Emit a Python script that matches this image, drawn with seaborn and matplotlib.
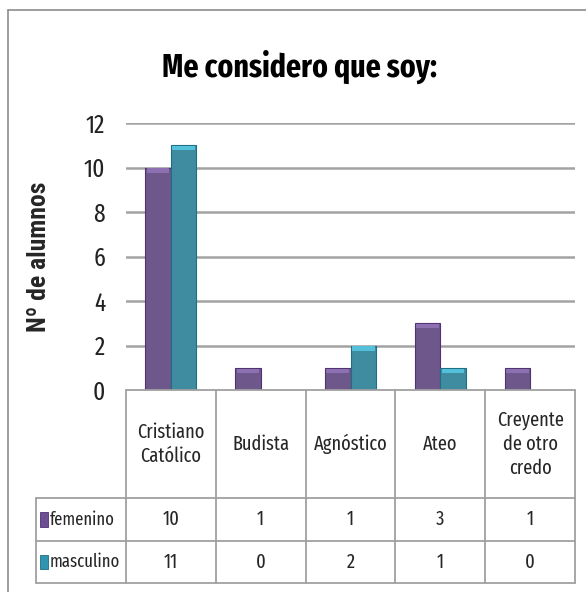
import matplotlib
matplotlib.use("Agg")
import matplotlib.pyplot as plt
import matplotlib.transforms as mtransforms
from matplotlib import font_manager
from matplotlib.lines import Line2D
from matplotlib.patches import Rectangle
import seaborn as sns
import pandas as pd

# ---------------- data ----------------
categories = ["Cristiano\nCatólico", "Budista", "Agnóstico", "Ateo", "Creyente\nde otro\ncredo"]
series_names = ["femenino", "masculino"]
femenino = [10, 1, 1, 3, 1]
masculino = [11, 0, 2, 1, 0]
y_ticks = [0, 2, 4, 6, 8, 10, 12]
title = "Me considero que soy:"
ylabel = "Nº de alumnos"
colors = ["#6E4E92", "#2F95B0"]
top_colors = ["#8C70B2", "#55C0DA"]
edge_colors = ["#4E3370", "#1F6E85"]

# ---------------- fonts ----------------
def faces(name):
    return [f for f in font_manager.fontManager.ttflist if f.name == name]

prefs = ["Fira Sans Extra Condensed", "Open Sans Condensed", "Fira Sans Condensed",
         "Roboto Condensed", "Carlito", "Liberation Sans"]
body = next(p for p in prefs if faces(p))
body_stretch = faces(body)[0].stretch
label_prefs = ["Roboto Condensed", "Liberation Sans"]
lab = next(p for p in label_prefs if faces(p))
lab_stretch = faces(lab)[0].stretch

sns.set_style("white")
plt.rcParams["font.family"] = [body, "DejaVu Sans"]
plt.rcParams["font.stretch"] = body_stretch

df = pd.DataFrame({
    "cat": categories * 2,
    "sexo": [series_names[0]] * len(categories) + [series_names[1]] * len(categories),
    "n": femenino + masculino,
})

W, H = 586, 592
fig = plt.figure(figsize=(W / 100, H / 100), dpi=100)
fig.patch.set_facecolor("white")
renderer = fig.canvas.get_renderer()

def fit(text, target_px, **kw):
    t = fig.text(0, 0, text, fontsize=10, **kw)
    w = t.get_window_extent(renderer).width
    t.remove()
    return 10 * target_px / w

title_fs = fit(title, 276, fontweight="bold")
tick_fs = fit("10", 21.5)
tab_fs = fit("Agnóstico", 74)
num_fs = fit("10", 17)
leg_fs = fit("femenino", 65)
lab_fs = fit(ylabel, 150, fontweight="bold", family=[lab, "DejaVu Sans"], fontstretch=lab_stretch)

ax_left, ax_right, ax_top, ax_bottom = 126, 575, 123, 390
ax = fig.add_axes([ax_left / W, 1 - ax_bottom / H, (ax_right - ax_left) / W, (ax_bottom - ax_top) / H])

sns.barplot(data=df, x="cat", y="n", hue="sexo", order=categories, hue_order=series_names,
            palette=colors, width=0.57, gap=0, ax=ax, legend=False, linewidth=0)

ax.set_xlim(-0.5, len(categories) - 0.5)
ax.set_ylim(0, 12)
px_per_unit = (ax_bottom - ax_top) / 12.0
bevel = 5 / px_per_unit
for cont, ec, tc in zip(ax.containers, edge_colors, top_colors):
    for bar in cont:
        if bar.get_height() > 0:
            bar.set_edgecolor(ec)
            bar.set_linewidth(0.8)
            x0, w, h = bar.get_x(), bar.get_width(), bar.get_height()
            ax.add_patch(Rectangle((x0 + w * 0.06, h - bevel), w * 0.88, bevel * 0.85,
                                   facecolor=tc, edgecolor="none", zorder=bar.get_zorder() + 0.1))
        else:
            bar.set_visible(False)

ax.set_yticks(y_ticks)
ax.set_yticklabels([str(t) for t in y_ticks])
ax.set_xticks([])
ax.set_xlabel("")
for t in y_ticks[1:]:
    ax.axhline(t, color="#A3A3A3", lw=1.8, zorder=0)
for s in ax.spines.values():
    s.set_visible(False)
ax.tick_params(axis="y", length=0, pad=15, labelsize=tick_fs, labelcolor="#222222")

ax.set_ylabel(ylabel, fontsize=lab_fs, fontweight="bold", family=[lab, "DejaVu Sans"],
              fontstretch=lab_stretch, color="#262626")
ax.yaxis.set_label_coords(-0.166, 0.5)

# ---------------- data table ----------------
trans = mtransforms.blended_transform_factory(ax.transData, ax.transAxes)
ah = ax_bottom - ax_top
def ya(py):
    return (ax_bottom - py) / ah

hdr_bot, row1_bot, row2_bot = ya(498), ya(541), ya(583)
n = len(categories)
lc = "#A0A0A0"
lw = 1.3
def line(xs, ys):
    ax.add_line(Line2D(xs, ys, transform=trans, color=lc, lw=lw, clip_on=False, zorder=5))

line([-0.5, n - 0.5], [0, 0])
for yy in (hdr_bot, row1_bot, row2_bot):
    line([-1.5, n - 0.5], [yy, yy])
for i in range(n + 1):
    line([i - 0.5, i - 0.5], [0, row2_bot])
line([-1.5, -1.5], [hdr_bot, row2_bot])

# line spacing so that lines are ~31 px apart
lsp = 31 / (tab_fs * 100 / 72 * 1.2)
for i, c in enumerate(categories):
    ax.text(i, (0 + hdr_bot) / 2, c, transform=trans, ha="center", va="center",
            fontsize=tab_fs, color="#262626", linespacing=lsp, clip_on=False)
    ax.text(i, (hdr_bot + row1_bot) / 2, str(femenino[i]), transform=trans, ha="center", va="center",
            fontsize=num_fs, color="#262626", clip_on=False)
    ax.text(i, (row1_bot + row2_bot) / 2, str(masculino[i]), transform=trans, ha="center", va="center",
            fontsize=num_fs, color="#262626", clip_on=False)

row_mids = [(hdr_bot + row1_bot) / 2, (row1_bot + row2_bot) / 2]
for name, col, ec, ym in zip(series_names, colors, edge_colors, row_mids):
    ax.add_patch(Rectangle((-1.455, ym - 0.028), 0.085, 0.056, transform=trans, facecolor=col,
                           edgecolor=ec, lw=0.6, clip_on=False, zorder=6))
    ax.text(-1.35, ym, name, transform=trans, ha="left", va="center", fontsize=leg_fs,
            color="#262626", clip_on=False)

# ---------------- title & frame ----------------
fig.text(300 / W, 1 - 77 / H, title, ha="center", va="baseline", fontsize=title_fs,
         fontweight="bold", color="black")

fig.add_artist(Line2D([8 / W, 8 / W], [0, 1 - 10 / H], transform=fig.transFigure, color="#8C8C8C", lw=1.2))
fig.add_artist(Line2D([8 / W, 1], [1 - 10 / H, 1 - 10 / H], transform=fig.transFigure, color="#8C8C8C", lw=1.2))

fig.savefig("out.png", dpi=100, facecolor="white")
